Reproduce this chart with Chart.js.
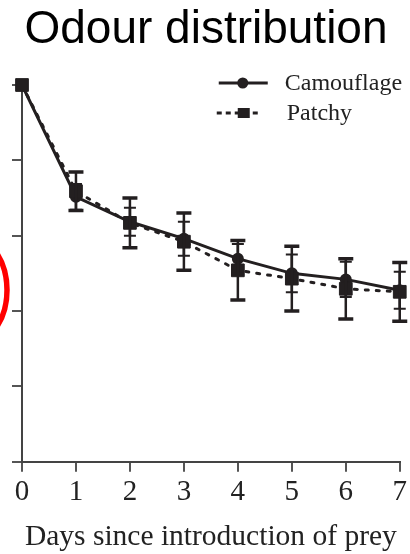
<!DOCTYPE html>
<html><head><meta charset="utf-8">
<script src="https://cdn.jsdelivr.net/npm/chart.js@4.4.1/dist/chart.umd.min.js"></script>
<style>html,body{margin:0;padding:0;background:#fff;} #c{display:block;}</style>
</head><body>
<canvas id="c" width="410" height="554"></canvas>
<script>
const days = [0, 1, 2, 3, 4, 5, 6, 7];
const xTicks = [0, 1, 2, 3, 4, 5, 6, 7];
const yTicks = [0, 20, 40, 60, 80, 100];
const camouflage = [100, 70.3, 63.7, 59.2, 53.9, 50.0, 48.4, 45.5];
const camouflageErr = [0, 3.4, 3.7, 4.5, 3.9, 5.0, 4.7, 4.9];
const patchy = [100, 71.8, 63.4, 58.4, 50.8, 48.6, 45.9, 45.1];
const patchyErr = [0, 5.1, 6.6, 7.6, 7.9, 8.6, 8.0, 7.8];
const seriesLabels = ['Camouflage', 'Patchy'];
const titleText = 'Odour distribution';
const xTitle = 'Days since introduction of prey';

const INK = '#231f20';
const SERIF = "'Liberation Serif', 'Times New Roman', serif";
const SANS = "'Liberation Sans', Arial, sans-serif";

const errorBars = {
  id: 'errorBars',
  afterDatasetsDraw(chart) {
    const ctx = chart.ctx;
    const xs = chart.scales.x, ys = chart.scales.y;
    chart.data.datasets.forEach((ds) => {
      if (!ds.errors) return;
      ctx.save();
      ctx.strokeStyle = INK;
      ds.data.forEach((p, i) => {
        const e = ds.errors[i];
        if (!e) return;
        const x = xs.getPixelForValue(p.x);
        const yt = ys.getPixelForValue(p.y + e);
        const yb = ys.getPixelForValue(p.y - e);
        ctx.lineWidth = 2.5;
        ctx.beginPath(); ctx.moveTo(x, yt); ctx.lineTo(x, yb); ctx.stroke();
        ctx.lineWidth = ds.capWidth;
        ctx.beginPath();
        ctx.moveTo(x - ds.capHalf, yt); ctx.lineTo(x + ds.capHalf, yt);
        ctx.moveTo(x - ds.capHalf, yb); ctx.lineTo(x + ds.capHalf, yb);
        ctx.stroke();
      });
      ctx.restore();
    });
  }
};

const customLegend = {
  id: 'customLegend',
  afterDraw(chart) {
    const ctx = chart.ctx;
    const r = chart.chartArea.right;
    const t = chart.chartArea.top;
    const rows = [
      {ds: chart.data.datasets[0], y: t - 2, x0: r - 181, x1: r - 132, mx: r - 157, tx: r - 115},
      {ds: chart.data.datasets[1], y: t + 28, x0: r - 183, x1: r - 140, mx: r - 156, tx: r - 113}
    ];
    ctx.save();
    rows.forEach(row => {
      const ds = row.ds;
      ctx.strokeStyle = INK; ctx.fillStyle = INK;
      ctx.lineWidth = 3;
      ctx.setLineDash(ds.pointStyle === 'rect' ? [5, 4] : []);
      ctx.beginPath(); ctx.moveTo(row.x0, row.y); ctx.lineTo(row.x1, row.y); ctx.stroke();
      ctx.setLineDash([]);
      if (ds.pointStyle === 'rect') {
        ctx.fillRect(row.mx - 6, row.y - 5, 12, 10);
      } else {
        ctx.beginPath(); ctx.arc(row.mx, row.y, 5.5, 0, Math.PI * 2); ctx.fill();
      }
      ctx.font = '24px ' + SERIF;
      ctx.textBaseline = 'middle';
      ctx.textAlign = 'left';
      ctx.fillStyle = '#222';
      ctx.fillText(ds.label, row.tx, row.y + 1);
    });
    ctx.restore();
  }
};

const redMark = {
  id: 'redMark',
  afterDraw(chart) {
    const ctx = chart.ctx;
    ctx.save();
    ctx.strokeStyle = '#ff0000';
    ctx.lineWidth = 5.5;
    ctx.beginPath();
    ctx.ellipse(-28, 290, 35, 52, 0, 0, Math.PI * 2);
    ctx.stroke();
    ctx.restore();
  }
};

new Chart(document.getElementById('c'), {
  type: 'line',
  data: {
    datasets: [
      {
        label: seriesLabels[0],
        data: days.map((d, i) => ({x: d, y: camouflage[i]})),
        errors: camouflageErr, capHalf: 6, capWidth: 2,
        borderColor: INK, borderWidth: 3,
        pointStyle: 'circle', pointRadius: 4.5, pointBackgroundColor: INK, pointBorderColor: INK,
        tension: 0, clip: false, order: 1
      },
      {
        label: seriesLabels[1],
        data: days.map((d, i) => ({x: d, y: patchy[i]})),
        errors: patchyErr, capHalf: 7.5, capWidth: 3.5,
        borderColor: INK, borderWidth: 3, borderDash: [3, 8], borderCapStyle: 'round',
        pointStyle: 'rect', pointRadius: 9, pointBorderWidth: 1, pointBackgroundColor: INK, pointBorderColor: INK,
        tension: 0, clip: false, order: 0
      }
    ]
  },
  options: {
    responsive: false,
    animation: false,
    events: [],
    layout: {padding: {left: 12, right: 10, top: 0, bottom: 0}},
    plugins: {
      legend: {display: false},
      tooltip: {enabled: false},
      title: {
        display: true, text: titleText, color: '#000',
        font: {family: SANS, size: 46, weight: 'normal', lineHeight: 1.0},
        padding: {top: 7, bottom: 32}
      }
    },
    scales: {
      x: {
        type: 'linear', min: 0, max: 7,
        afterBuildTicks: s => { s.ticks = xTicks.map(v => ({value: v})); },
        ticks: {padding: 3, color: '#222', font: {family: SERIF, size: 29, lineHeight: 1.2}, maxRotation: 0},
        grid: {drawOnChartArea: false, drawTicks: true, tickLength: 10, color: '#555', lineWidth: 2},
        border: {color: '#444', width: 2},
        title: {display: true, text: xTitle, color: '#222',
          font: {family: SERIF, size: 29.5, lineHeight: 1.0}, padding: {top: 10, bottom: 2}}
      },
      y: {
        type: 'linear', min: 0, max: 100,
        afterBuildTicks: s => { s.ticks = yTicks.map(v => ({value: v})); },
        ticks: {display: false},
        grid: {drawOnChartArea: false, drawTicks: true, tickLength: 10, color: '#555', lineWidth: 2},
        border: {color: '#444', width: 2}
      }
    }
  },
  plugins: [errorBars, customLegend, redMark]
});
</script>
</body></html>
